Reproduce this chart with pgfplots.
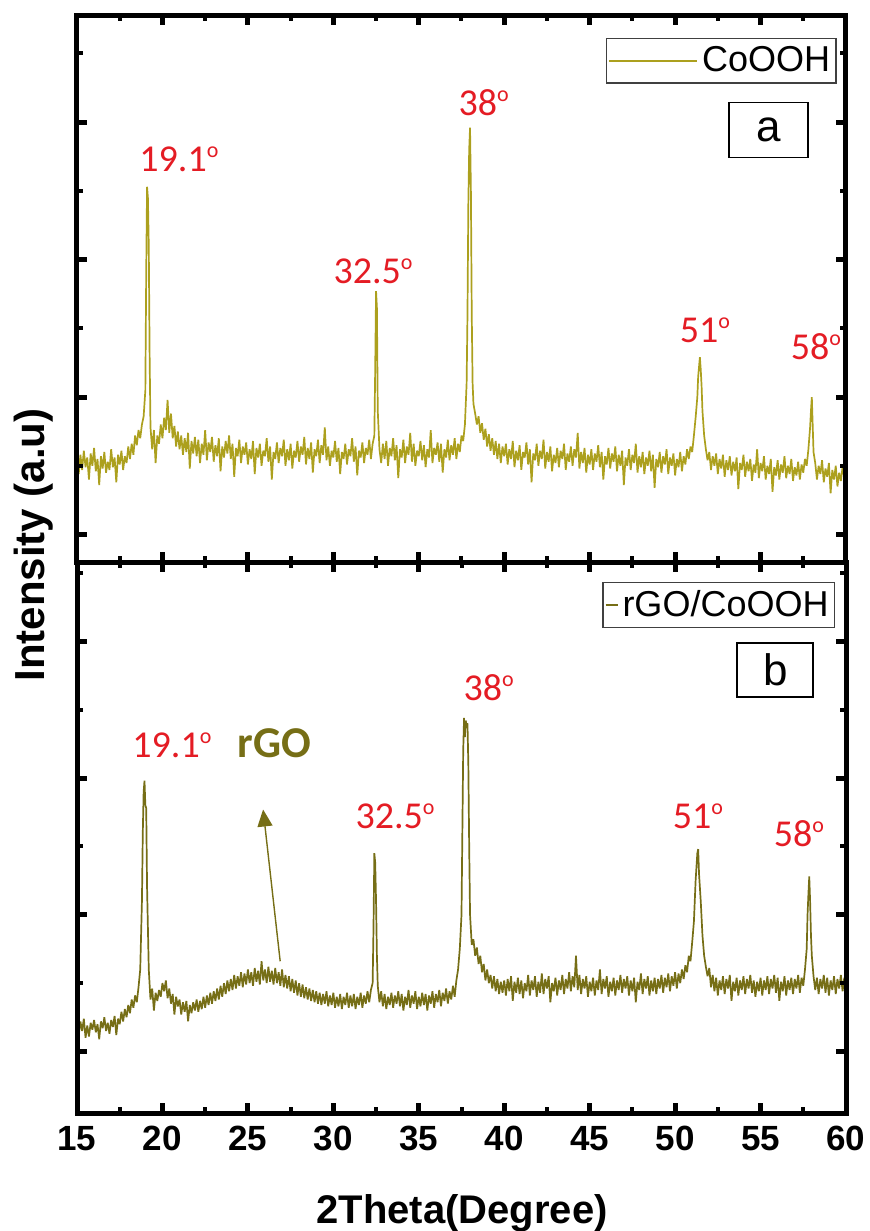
\documentclass[border=0pt]{standalone}
\usepackage{pgfplots}
\pgfplotsset{compat=1.18}
\usepackage{fontspec}
\setmainfont{Liberation Sans}
\newfontfamily\calibri{Carlito}
\usetikzlibrary{arrows.meta}
\definecolor{topc}{RGB}{172,160,30}
\definecolor{botc}{RGB}{118,110,22}
\definecolor{lblred}{RGB}{228,28,36}
\newcommand{\dg}{\raisebox{7pt}{\fontsize{11}{11}\selectfont o}}
\newcommand{\pk}[1]{{\calibri\fontsize{19}{19}\selectfont #1\dg}}
\pgfplotsset{
  xrd/.style={
    scale only axis, width=384.5pt,
    xmin=15, xmax=60, xtick={15,20,...,60}, minor x tick num=1,
    ytick={0,1,2,3}, minor ytick={0.5,1.5,2.5,3.5}, yticklabels={},
    tick align=inside, axis on top,
    axis line style={line width=2.5pt},
    major tick length=5pt, minor tick length=3pt,
    every major tick/.style={line width=2.5pt, black},
    every minor tick/.style={line width=2pt, black},
    legend style={draw=black!75, line width=0.7pt, inner xsep=1pt, inner ysep=2pt,
      nodes={inner sep=2pt, text depth=0.15em}, font=\fontsize{18}{20}\selectfont,
      cells={anchor=center}},
  }
}
\begin{document}
\begin{tikzpicture}
\path[use as bounding box] (0,0) rectangle (434.5pt,-615.5pt);
% ---------- top panel ----------
\begin{axis}[xrd, at={(38.5pt,-7.5pt)}, anchor=north west, height=273.5pt,
  ymin=-0.2, ymax=3.78, xticklabels={},
  legend style={at={(0.988,0.958)}, anchor=north east},
  legend image code/.code={\draw[#1, line width=0.8pt] (0pt,0pt) -- (44pt,0pt);}]
\addplot[topc, line width=0.85pt, line join=bevel] coordinates {
(15.0,.55)(15.1,.44)(15.2,.58)(15.3,.47)(15.4,.61)(15.5,.49)(15.6,.56)(15.7,.40)(15.8,.59)(15.9,.50)
(16.0,.63)(16.1,.46)(16.2,.55)(16.3,.36)(16.4,.57)(16.5,.48)(16.6,.60)(16.7,.45)(16.8,.53)(16.9,.47)
(17.0,.62)(17.1,.49)(17.2,.56)(17.3,.38)(17.4,.58)(17.5,.51)(17.6,.61)(17.7,.47)(17.8,.57)(17.9,.52)
(18.0,.64)(18.1,.55)(18.2,.66)(18.3,.58)(18.4,.72)(18.5,.65)(18.6,.76)(18.7,.70)(18.8,.80)(18.9,.86)
(19.0,1.05)(19.05,1.90)(19.1,2.53)(19.15,2.45)(19.2,2.10)(19.25,1.30)(19.3,.78)(19.4,.62)(19.5,.76)(19.6,.52)(19.7,.72)(19.8,.66)(19.9,.80)
(20.0,.70)(20.1,.85)(20.2,.76)(20.3,.98)(20.4,.74)(20.5,.88)(20.6,.70)(20.7,.79)(20.8,.64)(20.9,.75)
(21.0,.62)(21.1,.72)(21.2,.58)(21.3,.70)(21.4,.60)(21.5,.74)(21.6,.48)(21.7,.68)(21.8,.59)(21.9,.71)
(22.0,.57)(22.1,.69)(22.2,.52)(22.3,.66)(22.4,.58)(22.5,.76)(22.6,.54)(22.7,.67)(22.8,.60)(22.9,.71)
(23.0,.53)(23.1,.65)(23.2,.57)(23.3,.70)(23.4,.46)(23.5,.64)(23.6,.56)(23.7,.68)(23.8,.59)(23.9,.72)
(24.0,.55)(24.1,.66)(24.2,.42)(24.3,.63)(24.4,.57)(24.5,.69)(24.6,.52)(24.7,.64)(24.8,.58)(24.9,.67)
(25.0,.51)(25.1,.62)(25.2,.55)(25.3,.68)(25.4,.44)(25.5,.63)(25.6,.56)(25.7,.66)(25.8,.50)(25.9,.61)
(26.0,.57)(26.1,.70)(26.2,.53)(26.3,.64)(26.4,.40)(26.5,.60)(26.6,.55)(26.7,.67)(26.8,.52)(26.9,.63)
(27.0,.57)(27.1,.69)(27.2,.50)(27.3,.62)(27.4,.54)(27.5,.66)(27.6,.48)(27.7,.61)(27.8,.56)(27.9,.68)
(28.0,.53)(28.1,.64)(28.2,.58)(28.3,.71)(28.4,.51)(28.5,.63)(28.6,.55)(28.7,.67)(28.8,.45)(28.9,.62)
(29.0,.57)(29.1,.69)(29.2,.52)(29.3,.65)(29.4,.58)(29.5,.78)(29.6,.54)(29.7,.64)(29.8,.50)(29.9,.61)
(30.0,.56)(30.1,.68)(30.2,.53)(30.3,.63)(30.4,.44)(30.5,.60)(30.6,.55)(30.7,.66)(30.8,.51)(30.9,.62)
(31.0,.57)(31.1,.70)(31.2,.53)(31.3,.64)(31.4,.43)(31.5,.61)(31.6,.56)(31.7,.67)(31.8,.52)(31.9,.63)
(32.0,.58)(32.1,.69)(32.2,.55)(32.3,.66)(32.4,.72)(32.45,1.20)(32.5,1.77)(32.55,1.65)(32.6,.90)(32.7,.62)(32.8,.52)(32.9,.66)
(33.0,.55)(33.1,.68)(33.2,.50)(33.3,.63)(33.4,.57)(33.5,.70)(33.6,.54)(33.7,.65)(33.8,.41)(33.9,.62)
(34.0,.56)(34.1,.69)(34.2,.52)(34.3,.64)(34.4,.58)(34.5,.74)(34.6,.53)(34.7,.66)(34.8,.50)(34.9,.61)
(35.0,.57)(35.1,.68)(35.2,.54)(35.3,.65)(35.4,.49)(35.5,.62)(35.6,.56)(35.7,.76)(35.8,.52)(35.9,.63)
(36.0,.58)(36.1,.67)(36.2,.53)(36.3,.66)(36.4,.45)(36.5,.62)(36.6,.56)(36.7,.69)(36.8,.54)(36.9,.65)
(37.0,.58)(37.1,.70)(37.2,.55)(37.3,.66)(37.4,.60)(37.5,.72)(37.6,.68)(37.7,.80)(37.8,1.10)(37.85,1.60)(37.9,2.40)(37.95,2.80)
(38.0,2.96)(38.05,2.50)(38.1,1.60)(38.15,1.10)(38.2,.95)(38.3,.88)(38.4,.80)(38.5,.86)(38.6,.74)(38.7,.81)(38.8,.69)(38.9,.77)
(39.0,.64)(39.1,.73)(39.2,.61)(39.3,.70)(39.4,.58)(39.5,.68)(39.6,.55)(39.7,.66)(39.8,.52)(39.9,.64)
(40.0,.57)(40.1,.66)(40.2,.51)(40.3,.62)(40.4,.55)(40.5,.68)(40.6,.49)(40.7,.61)(40.8,.54)(40.9,.65)
(41.0,.47)(41.1,.60)(41.2,.56)(41.3,.67)(41.4,.51)(41.5,.62)(41.6,.38)(41.7,.59)(41.8,.54)(41.9,.66)
(42.0,.50)(42.1,.61)(42.2,.55)(42.3,.69)(42.4,.48)(42.5,.60)(42.6,.53)(42.7,.64)(42.8,.46)(42.9,.58)
(43.0,.52)(43.1,.63)(43.2,.49)(43.3,.61)(43.4,.55)(43.5,.66)(43.6,.47)(43.7,.59)(43.8,.53)(43.9,.64)
(44.0,.50)(44.1,.62)(44.2,.56)(44.3,.74)(44.4,.48)(44.5,.60)(44.6,.52)(44.7,.63)(44.8,.45)(44.9,.58)
(45.0,.51)(45.1,.62)(45.2,.47)(45.3,.59)(45.4,.53)(45.5,.65)(45.6,.49)(45.7,.60)(45.8,.40)(45.9,.57)
(46.0,.51)(46.1,.63)(46.2,.48)(46.3,.59)(46.4,.53)(46.5,.64)(46.6,.46)(46.7,.58)(46.8,.50)(46.9,.61)
(47.0,.36)(47.1,.56)(47.2,.50)(47.3,.62)(47.4,.47)(47.5,.58)(47.6,.52)(47.7,.66)(47.8,.45)(47.9,.57)
(48.0,.49)(48.1,.60)(48.2,.44)(48.3,.56)(48.4,.50)(48.5,.61)(48.6,.46)(48.7,.58)(48.8,.34)(48.9,.55)
(49.0,.49)(49.1,.60)(49.2,.45)(49.3,.57)(49.4,.51)(49.5,.62)(49.6,.44)(49.7,.56)(49.8,.50)(49.9,.59)
(50.0,.43)(50.1,.55)(50.2,.49)(50.3,.60)(50.4,.46)(50.5,.57)(50.6,.51)(50.7,.62)(50.8,.55)(50.9,.64)
(51.0,.60)(51.1,.72)(51.2,.85)(51.3,1.00)(51.35,1.15)(51.4,1.22)(51.45,1.29)(51.5,1.20)(51.55,1.08)(51.6,.90)(51.7,.72)(51.8,.62)(51.9,.54)
(52.0,.60)(52.1,.47)(52.2,.57)(52.3,.50)(52.4,.59)(52.5,.44)(52.6,.55)(52.7,.48)(52.8,.58)(52.9,.42)
(53.0,.54)(53.1,.47)(53.2,.57)(53.3,.43)(53.4,.53)(53.5,.46)(53.6,.56)(53.7,.33)(53.8,.52)(53.9,.47)
(54.0,.58)(54.1,.42)(54.2,.53)(54.3,.46)(54.4,.55)(54.5,.39)(54.6,.51)(54.7,.45)(54.8,.62)(54.9,.41)
(55.0,.52)(55.1,.46)(55.2,.57)(55.3,.40)(55.4,.50)(55.5,.44)(55.6,.55)(55.7,.31)(55.8,.49)(55.9,.43)
(56.0,.54)(56.1,.40)(56.2,.51)(56.3,.45)(56.4,.57)(56.5,.41)(56.6,.50)(56.7,.44)(56.8,.55)(56.9,.39)
(57.0,.49)(57.1,.43)(57.2,.53)(57.3,.40)(57.4,.51)(57.5,.45)(57.6,.55)(57.7,.50)(57.8,.62)(57.9,.78)(57.95,.90)
(58.0,1.00)(58.05,.80)(58.1,.60)(58.2,.52)(58.3,.40)(58.4,.50)(58.5,.44)(58.6,.54)(58.7,.38)(58.8,.48)(58.9,.42)
(59.0,.52)(59.1,.30)(59.2,.47)(59.3,.40)(59.4,.50)(59.5,.35)(59.6,.45)(59.7,.39)(59.8,.49)(59.9,.42)(60.0,.46)
};
\addlegendentry{CoOOH}
\node[draw=black, line width=0.8pt, minimum width=39.5pt, minimum height=27.5pt, inner sep=0pt,
  font=\fontsize{22}{22}\selectfont] at (rel axis cs:0.899,0.790) {a};
\node[lblred, anchor=base west, inner sep=0pt] at (axis cs:18.63,2.64) {\pk{19.1}};
\node[lblred, anchor=base west, inner sep=0pt] at (axis cs:29.99,1.83) {\pk{32.5}};
\node[lblred, anchor=base west, inner sep=0pt] at (axis cs:37.31,3.05) {\pk{38}};
\node[lblred, anchor=base west, inner sep=0pt] at (axis cs:50.25,1.40) {\pk{51}};
\node[lblred, anchor=base west, inner sep=0pt] at (axis cs:56.75,1.27) {\pk{58}};
\end{axis}
% ---------- bottom panel ----------
\begin{axis}[xrd, at={(38.5pt,-281pt)}, anchor=north west, height=275.5pt,
  ymin=-0.45, ymax=3.58,
  xticklabel style={font=\bfseries\fontsize{17.5}{18}\selectfont, yshift=-3pt},
  /pgf/number format/assume math mode=true,
  legend style={at={(0.986,0.964)}, anchor=north east},
  legend image code/.code={\draw[#1, line width=0.8pt] (0pt,0pt) -- (6pt,0pt);}]
\addplot[botc, line width=0.85pt, line join=bevel] coordinates {
(15.0,.20)(15.1,.12)(15.2,.22)(15.3,.15)(15.4,.24)(15.5,.10)(15.6,.19)(15.7,.11)(15.8,.21)(15.9,.16)
(16.0,.23)(16.1,.14)(16.2,.20)(16.3,.09)(16.4,.22)(16.5,.17)(16.6,.25)(16.7,.15)(16.8,.21)(16.9,.13)
(17.0,.23)(17.1,.18)(17.2,.26)(17.3,.12)(17.4,.24)(17.5,.20)(17.6,.29)(17.7,.22)(17.8,.31)(17.9,.25)
(18.0,.34)(18.1,.28)(18.2,.38)(18.3,.32)(18.4,.41)(18.5,.36)(18.6,.47)(18.7,.60)(18.8,1.10)(18.85,1.60)(18.9,1.90)(18.95,1.98)
(19.0,1.80)(19.05,1.78)(19.1,1.20)(19.2,.60)(19.3,.38)(19.4,.46)(19.5,.30)(19.6,.43)(19.7,.37)(19.8,.45)(19.9,.40)
(20.0,.50)(20.1,.44)(20.2,.52)(20.3,.39)(20.4,.46)(20.5,.35)(20.6,.42)(20.7,.27)(20.8,.40)(20.9,.33)
(21.0,.38)(21.1,.27)(21.2,.36)(21.3,.29)(21.4,.37)(21.5,.22)(21.6,.34)(21.7,.28)(21.8,.36)(21.9,.30)
(22.0,.38)(22.1,.29)(22.2,.37)(22.3,.31)(22.4,.40)(22.5,.32)(22.6,.41)(22.7,.34)(22.8,.43)(22.9,.35)
(23.0,.44)(23.1,.37)(23.2,.46)(23.3,.38)(23.4,.48)(23.5,.40)(23.6,.50)(23.7,.42)(23.8,.52)(23.9,.44)
(24.0,.53)(24.1,.45)(24.2,.56)(24.3,.46)(24.4,.55)(24.5,.48)(24.6,.58)(24.7,.47)(24.8,.57)(24.9,.49)
(25.0,.60)(25.1,.50)(25.2,.58)(25.3,.48)(25.4,.61)(25.5,.51)(25.6,.59)(25.7,.49)(25.8,.66)(25.9,.52)
(26.0,.60)(26.1,.50)(26.2,.62)(26.3,.51)(26.4,.59)(26.5,.49)(26.6,.61)(26.7,.50)(26.8,.58)(26.9,.48)
(27.0,.60)(27.1,.47)(27.2,.56)(27.3,.46)(27.4,.55)(27.5,.44)(27.6,.53)(27.7,.43)(27.8,.52)(27.9,.41)
(28.0,.50)(28.1,.40)(28.2,.49)(28.3,.39)(28.4,.47)(28.5,.38)(28.6,.46)(28.7,.37)(28.8,.45)(28.9,.36)
(29.0,.44)(29.1,.35)(29.2,.43)(29.3,.34)(29.4,.42)(29.5,.35)(29.6,.44)(29.7,.33)(29.8,.41)(29.9,.34)
(30.0,.43)(30.1,.32)(30.2,.40)(30.3,.33)(30.4,.42)(30.5,.31)(30.6,.40)(30.7,.34)(30.8,.43)(30.9,.32)
(31.0,.41)(31.1,.33)(31.2,.42)(31.3,.31)(31.4,.40)(31.5,.34)(31.6,.43)(31.7,.32)(31.8,.41)(31.9,.35)
(32.0,.44)(32.1,.36)(32.2,.45)(32.3,.50)(32.35,.90)(32.4,1.45)(32.45,1.38)(32.5,1.10)(32.55,.70)(32.6,.48)(32.7,.36)(32.8,.44)(32.9,.33)
(33.0,.42)(33.1,.31)(33.2,.40)(33.3,.34)(33.4,.43)(33.5,.32)(33.6,.41)(33.7,.35)(33.8,.44)(33.9,.33)
(34.0,.42)(34.1,.30)(34.2,.40)(34.3,.34)(34.4,.45)(34.5,.32)(34.6,.41)(34.7,.35)(34.8,.44)(34.9,.31)
(35.0,.40)(35.1,.33)(35.2,.43)(35.3,.34)(35.4,.42)(35.5,.30)(35.6,.41)(35.7,.35)(35.8,.44)(35.9,.32)
(36.0,.42)(36.1,.36)(36.2,.45)(36.3,.33)(36.4,.43)(36.5,.37)(36.6,.46)(36.7,.35)(36.8,.44)(36.9,.38)
(37.0,.48)(37.1,.40)(37.2,.52)(37.3,.60)(37.4,.75)(37.5,1.00)(37.55,1.60)(37.6,2.20)(37.65,2.44)(37.7,2.30)(37.75,2.42)(37.8,2.38)(37.85,2.40)(37.9,2.10)(37.95,1.50)
(38.0,1.00)(38.1,.78)(38.2,.82)(38.3,.70)(38.4,.76)(38.5,.64)(38.6,.70)(38.7,.58)(38.8,.64)(38.9,.52)
(39.0,.60)(39.1,.50)(39.2,.56)(39.3,.46)(39.4,.55)(39.5,.44)(39.6,.53)(39.7,.42)(39.8,.51)(39.9,.43)
(40.0,.52)(40.1,.41)(40.2,.53)(40.3,.44)(40.4,.55)(40.5,.37)(40.6,.51)(40.7,.43)(40.8,.54)(40.9,.42)
(41.0,.52)(41.1,.39)(41.2,.50)(41.3,.44)(41.4,.56)(41.5,.41)(41.6,.52)(41.7,.45)(41.8,.55)(41.9,.40)
(42.0,.51)(42.1,.43)(42.2,.57)(42.3,.42)(42.4,.53)(42.5,.46)(42.6,.55)(42.7,.36)(42.8,.50)(42.9,.44)
(43.0,.54)(43.1,.41)(43.2,.52)(43.3,.45)(43.4,.56)(43.5,.42)(43.6,.53)(43.7,.46)(43.8,.58)(43.9,.44)
(44.0,.55)(44.1,.47)(44.2,.70)(44.3,.45)(44.4,.56)(44.5,.42)(44.6,.53)(44.7,.46)(44.8,.55)(44.9,.40)
(45.0,.51)(45.1,.44)(45.2,.54)(45.3,.41)(45.4,.52)(45.5,.45)(45.6,.60)(45.7,.42)(45.8,.53)(45.9,.46)
(46.0,.55)(46.1,.40)(46.2,.51)(46.3,.44)(46.4,.54)(46.5,.41)(46.6,.52)(46.7,.45)(46.8,.56)(46.9,.43)
(47.0,.53)(47.1,.46)(47.2,.55)(47.3,.41)(47.4,.52)(47.5,.44)(47.6,.54)(47.7,.36)(47.8,.51)(47.9,.45)
(48.0,.57)(48.1,.42)(48.2,.53)(48.3,.46)(48.4,.55)(48.5,.41)(48.6,.52)(48.7,.44)(48.8,.54)(48.9,.42)
(49.0,.53)(49.1,.46)(49.2,.56)(49.3,.43)(49.4,.54)(49.5,.47)(49.6,.57)(49.7,.44)(49.8,.55)(49.9,.48)
(50.0,.58)(50.1,.46)(50.2,.57)(50.3,.50)(50.4,.60)(50.5,.53)(50.6,.63)(50.7,.58)(50.8,.70)(50.9,.66)
(51.0,.80)(51.1,.95)(51.2,1.25)(51.3,1.45)(51.35,1.48)(51.4,1.30)(51.5,1.10)(51.6,.85)(51.7,.70)(51.8,.62)(51.9,.55)
(52.0,.61)(52.1,.47)(52.2,.56)(52.3,.44)(52.4,.54)(52.5,.41)(52.6,.52)(52.7,.45)(52.8,.55)(52.9,.42)
(53.0,.53)(53.1,.46)(53.2,.56)(53.3,.37)(53.4,.51)(53.5,.44)(53.6,.54)(53.7,.41)(53.8,.52)(53.9,.45)
(54.0,.55)(54.1,.42)(54.2,.53)(54.3,.46)(54.4,.56)(54.5,.43)(54.6,.52)(54.7,.40)(54.8,.51)(54.9,.44)
(55.0,.54)(55.1,.41)(55.2,.52)(55.3,.45)(55.4,.55)(55.5,.42)(55.6,.53)(55.7,.46)(55.8,.56)(55.9,.43)
(56.0,.54)(56.1,.37)(56.2,.51)(56.3,.44)(56.4,.55)(56.5,.41)(56.6,.52)(56.7,.45)(56.8,.54)(56.9,.42)
(57.0,.53)(57.1,.46)(57.2,.56)(57.3,.43)(57.4,.54)(57.5,.48)(57.6,.60)(57.7,.75)(57.75,1.00)(57.8,1.15)(57.85,1.28)(57.9,1.10)(57.95,.85)
(58.0,.70)(58.1,.55)(58.2,.45)(58.3,.54)(58.4,.42)(58.5,.53)(58.6,.46)(58.7,.56)(58.8,.43)(58.9,.54)
(59.0,.41)(59.1,.52)(59.2,.45)(59.3,.55)(59.4,.42)(59.5,.53)(59.6,.46)(59.7,.56)(59.8,.44)(59.9,.54)(60.0,.48)
};
\addlegendentry{rGO/CoOOH}
\node[draw=black, line width=0.8pt, minimum width=38pt, minimum height=27pt, inner sep=0pt,
  font=\fontsize{22}{22}\selectfont] at (rel axis cs:0.908,0.804) {b};
\node[lblred, anchor=base west, inner sep=0pt] at (axis cs:18.22,2.15) {\pk{19.1}};
\node[lblred, anchor=base west, inner sep=0pt] at (axis cs:31.28,1.63) {\pk{32.5}};
\node[lblred, anchor=base west, inner sep=0pt] at (axis cs:37.60,2.57) {\pk{38}};
\node[lblred, anchor=base west, inner sep=0pt] at (axis cs:49.84,1.63) {\pk{51}};
\node[lblred, anchor=base west, inner sep=0pt] at (axis cs:55.75,1.50) {\pk{58}};
\node[botc, anchor=base west, inner sep=0pt, font=\calibri\bfseries\fontsize{22}{22}\selectfont]
  at (axis cs:24.37,2.15) {rGO};
\draw[botc, line width=0.7pt, -{Triangle[width=7.5pt,length=8.5pt]}]
  (axis cs:26.89,0.66) -- (axis cs:25.89,1.77);
\end{axis}
\node[rotate=90, font=\bfseries\fontsize{21}{21}\selectfont] at (17pt,-272.5pt) {Intensity (a.u)};
\node[font=\bfseries\fontsize{20}{20}\selectfont] at (231pt,-606.5pt) {2Theta(Degree)};
\end{tikzpicture}
\end{document}
